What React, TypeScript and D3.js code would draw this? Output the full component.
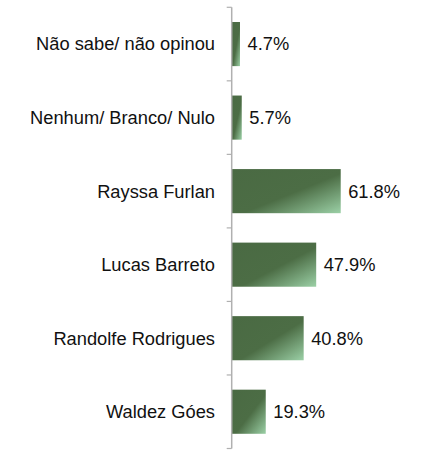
import * as d3 from "d3";

const categories = [
  "Não sabe/ não opinou",
  "Nenhum/ Branco/ Nulo",
  "Rayssa Furlan",
  "Lucas Barreto",
  "Randolfe Rodrigues",
  "Waldez Góes",
];
const values = [4.7, 5.7, 61.8, 47.9, 40.8, 19.3];
const valueLabels = ["4.7%", "5.7%", "61.8%", "47.9%", "40.8%", "19.3%"];

const width = 431;
const height = 453;
const axisX = 231.7;
const top = 7.3;
const bottom = 448.5;
const font = "'Liberation Sans', Arial, sans-serif";

export default function App() {
  const x = d3.scaleLinear().domain([0, 100]).range([axisX, axisX + 176.4]);
  const y = d3
    .scaleBand()
    .domain(categories)
    .range([top, bottom])
    .paddingInner(0.4)
    .paddingOuter(0.2);
  const step = y.step();
  const ticks = d3.range(categories.length + 1).map((i) => top + i * step);

  return (
    <div style={{ position: "fixed", left: 0, top: 0 }}>
      <svg width={width} height={height} style={{ display: "block" }}>
        <defs>
          <linearGradient id="barFill" x1="0" y1="0" x2="1" y2="1">
            <stop offset="0" stopColor="#4a6a43" />
            <stop offset="0.55" stopColor="#4c6d45" />
            <stop offset="1" stopColor="#9bd0a6" />
          </linearGradient>
        </defs>
        <rect width={width} height={height} fill="#ffffff" />
        {categories.map((c, i) => (
          <g key={c}>
            <rect
              x={x(0)}
              y={y(c)!}
              width={x(values[i]) - x(0)}
              height={y.bandwidth()}
              fill="url(#barFill)"
            />
            <text
              x={x(values[i]) + 7.5}
              y={y(c)! + y.bandwidth() / 2}
              dy="0.35em"
              fontFamily={font}
              fontSize={18.3}
              fill="#111"
            >
              {valueLabels[i]}
            </text>
            <text
              x={215}
              y={y(c)! + y.bandwidth() / 2}
              dy="0.35em"
              textAnchor="end"
              fontFamily={font}
              fontSize={18.3}
              fill="#111"
            >
              {c}
            </text>
          </g>
        ))}
        <line x1={axisX} x2={axisX} y1={top} y2={bottom} stroke="#b0b0b0" strokeWidth={1.5} />
        {ticks.map((t) => (
          <line key={t} x1={axisX - 5} x2={axisX} y1={t} y2={t} stroke="#b0b0b0" strokeWidth={1.2} />
        ))}
      </svg>
    </div>
  );
}
